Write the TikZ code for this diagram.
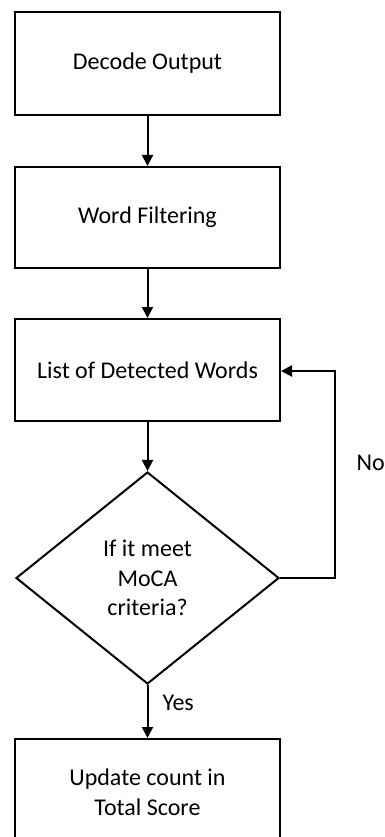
\documentclass[tikz,border=0pt]{standalone}
\usepackage{fontspec}
\setmainfont{Carlito}
\usetikzlibrary{arrows.meta,shapes.geometric}
\begin{document}
\begin{tikzpicture}[x=1pt,y=-1pt,
  every node/.style={font=\fontsize{24}{29.5}\selectfont},
  stepbox/.style={draw,line width=2pt,minimum width=265pt,inner sep=0pt},
  flow/.style={line width=2pt,-{Triangle[length=11pt,width=11pt]}}]
\useasboundingbox (0,0) rectangle (385,837);
\clip (0,0) rectangle (385,837);
% process boxes
\node[stepbox,minimum height=103pt] (dec) at (147.5,63.5) {Decode Output};
\node[stepbox,minimum height=101pt] (filt) at (147.5,217.5) {Word Filtering};
\node[stepbox,minimum height=102pt] (list) at (147.5,370) {List of Detected Words};
% decision
\node[draw,line width=2pt,diamond,minimum width=263pt,minimum height=212pt,inner sep=0pt,align=center] (crit) at (147.5,578) {If it meet\\MoCA\\criteria?};
% final box runs past the lower edge
\node[stepbox,minimum height=110pt] (upd) at (147.5,794) {};
\node[align=center] (updtxt) at (147.5,792) {Update count in\\Total Score};
% loop-back corners
\coordinate (turn1) at (335,578);
\coordinate (turn2) at (335,371);
\draw[flow] (dec) -- (filt);
\draw[flow] (filt) -- (list);
\draw[flow] (list) -- (crit);
\draw[flow] (crit) -- (upd);
\draw[flow] (crit.east) -- (turn1) -- (turn2) -- (list.east |- turn2);
\node[anchor=west] (no) at (353,463) {No};
\node[anchor=west] (yes) at (159,703) {Yes};
\end{tikzpicture}
\end{document}
